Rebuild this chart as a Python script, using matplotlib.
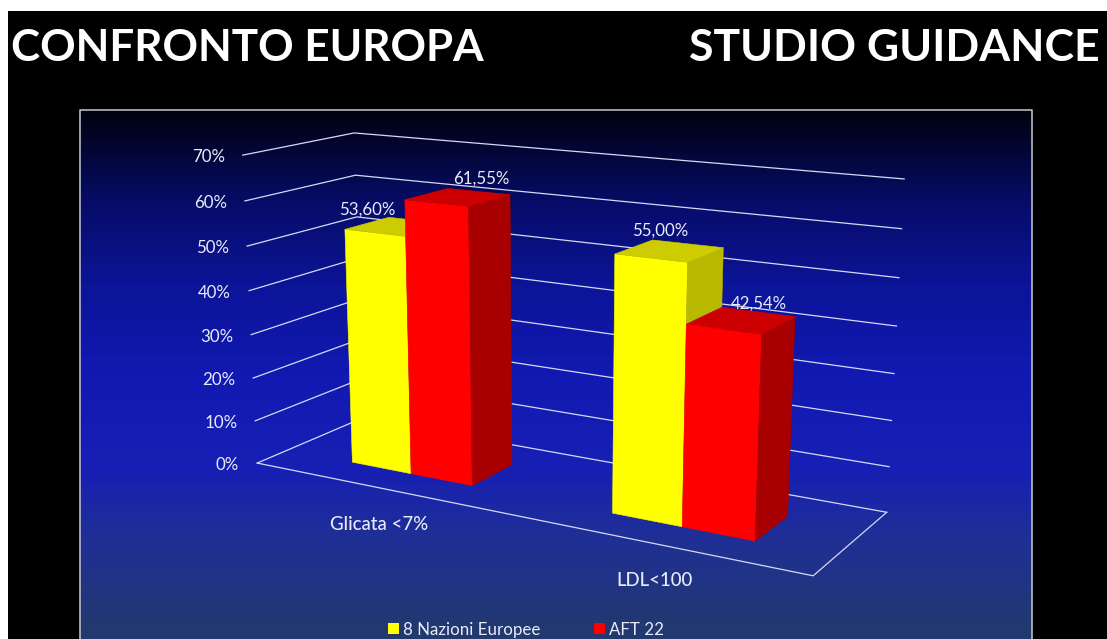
"""3D clustered bar slide: Europe comparison, GUIDANCE study."""
import matplotlib
matplotlib.use("Agg")
import matplotlib.pyplot as plt
import numpy as np
from matplotlib.colors import LinearSegmentedColormap
from matplotlib.patches import Polygon, Rectangle

W, H = 1107, 639

categories = ["Glicata <7%", "LDL<100"]
series_names = ["8 Nazioni Europee", "AFT 22"]
nazioni_europee = [53.60, 55.00]
aft_22 = [61.55, 42.54]
y_ticks = [0, 10, 20, 30, 40, 50, 60, 70]

YELLOW = ("#ffff00", "#b9b900", "#cccc00")      # front, side, top
RED = ("#ff0000", "#a80000", "#cc0000")
TEXT = "#e8ecf8"
GRID = "#d5d9f2"

plt.rcParams["font.family"] = ["Lato", "DejaVu Sans"]

# box corners in world units (x along categories, y depth, z percent) and
# where they land on the canvas; a least-squares camera maps one to the other
WORLD = np.array([(0, 0, 0), (1, 0, 0), (1, 1, 0), (0, 1, 0),
                  (0, 0, 70), (0, 1, 70), (1, 1, 70)], float)
SCREEN = np.array([(258, 463), (813, 576), (887, 512), (362, 418),
                   (242, 155), (355, 133), (904, 179)], float)


def fit_camera(world, screen):
    rows, rhs = [], []
    for (x, y, z), (u, v) in zip(world, screen):
        rows.append([x, y, z, 1, 0, 0, 0, 0, -u * x, -u * y, -u * z])
        rows.append([0, 0, 0, 0, x, y, z, 1, -v * x, -v * y, -v * z])
        rhs += [u, v]
    m = np.linalg.lstsq(np.array(rows), np.array(rhs), rcond=None)[0]
    return np.append(m, 1.0).reshape(3, 4)


CAM = fit_camera(WORLD, SCREEN)


def proj(x, y, z):
    u, v, w = CAM @ np.array([x, y, z, 1.0])
    return u / w, v / w


def draw_box(ax, x0, x1, y0, y1, val, colors):
    front, side, top = colors
    faces = [
        ([(x0, y0, 0), (x1, y0, 0), (x1, y0, val), (x0, y0, val)], front),
        ([(x1, y0, 0), (x1, y1, 0), (x1, y1, val), (x1, y0, val)], side),
        ([(x0, y0, val), (x1, y0, val), (x1, y1, val), (x0, y1, val)], top),
    ]
    for pts, c in faces:
        ax.add_patch(Polygon([proj(*p) for p in pts], closed=True, fc=c,
                             ec=c, lw=0.4, zorder=3))


fig = plt.figure(figsize=(W / 100, H / 100), dpi=100, facecolor="white")
ax = fig.add_axes([0, 0, 1, 1])
ax.set_xlim(0, W)
ax.set_ylim(H, 0)
ax.axis("off")

# slide background and the chart panel with its vertical gradient
ax.add_patch(Rectangle((8, 11), W - 8, H - 11, fc="black", ec="none", zorder=0))
grad = LinearSegmentedColormap.from_list("panel", [
    (0.00, "#00020f"), (0.17, "#060c66"), (0.33, "#0c1498"), (0.50, "#1119b2"),
    (0.68, "#171fb4"), (0.80, "#1f2e98"), (1.00, "#223a6c")])
ax.imshow(np.linspace(0, 1, 256)[:, None], cmap=grad, aspect="auto",
          extent=(80, 1032, H, 110), zorder=1)
ax.set_xlim(0, W)
ax.set_ylim(H, 0)
ax.plot([80, 80, 1032, 1032], [H, 110, 110, H], color="#c4c8d2", lw=1.1, zorder=2)

ax.text(11, 61, "CONFRONTO EUROPA", color="white", fontsize=31.7,
        fontweight="bold", va="baseline", ha="left", zorder=5)
ax.text(1100, 61, "STUDIO GUIDANCE", color="white", fontsize=32,
        fontweight="bold", va="baseline", ha="right", zorder=5)

# walls: one polyline per tick, floor outline closes the front and right
for t in y_ticks:
    pts = [proj(0, 0, t), proj(0, 1, t), proj(1, 1, t)]
    ax.plot(*zip(*pts), color=GRID, lw=0.9, zorder=2)
    u, v = proj(0, 0, t)
    ax.text(u - 18, v + 2, f"{t}%", color=TEXT, fontsize=12.2, ha="right",
            va="center", zorder=5)
floor = [proj(0, 0, 0), proj(1, 0, 0), proj(1, 1, 0)]
ax.plot(*zip(*floor), color=GRID, lw=0.9, zorder=2)

# bars, back series painted first so the red one overlaps the yellow
BAR_W = 0.12
Y0, Y1 = 0.28, 0.69
centers = [0.256, 0.754]
# value labels follow the bar tops, each with its own small nudge in pixels
yellow_nudge = [(-57, -12), (-34, -14)]
red_nudge = [(-4, -14), (-6, -9)]
for vals, colors, offs, nudges in ((nazioni_europee, YELLOW, -1, yellow_nudge),
                                   (aft_22, RED, 0, red_nudge)):
    for cx, val, (dx, dy) in zip(centers, vals, nudges):
        x0 = cx + offs * BAR_W
        draw_box(ax, x0, x0 + BAR_W, Y0, Y1, val, colors)
        u, v = proj(x0 + BAR_W / 2 + 0.012, Y1, val)
        ax.text(u + dx, v + dy, f"{val:.2f}".replace(".", ",") + "%", color=TEXT,
                fontsize=12.2, ha="center", va="center", zorder=5)

# category names sit a fixed distance under the front floor edge
for cx, name in zip(centers, categories):
    u, v = proj(cx, 0, 0)
    ax.text(u - 2.5, v + 36, name, color=TEXT, fontsize=13.4, fontweight="medium",
            ha="center", va="center", zorder=5)

# legend along the bottom of the panel
for x, name, colors in ((388, series_names[0], YELLOW), (594, series_names[1], RED)):
    ax.add_patch(Rectangle((x, 623), 11, 11, fc=colors[0], ec="none", zorder=5))
    ax.text(x + 15, 630, name, color=TEXT, fontsize=12.2, ha="left",
            va="center", zorder=5)

fig.savefig("out.png", dpi=100, facecolor=fig.get_facecolor())
